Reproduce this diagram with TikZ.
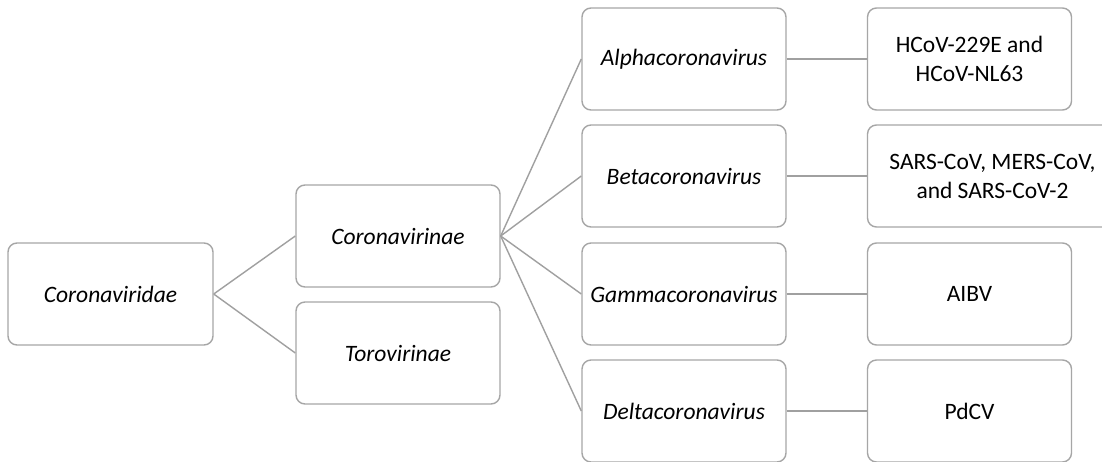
\documentclass[tikz,border=0pt]{standalone}
\usepackage{fontspec}
\setmainfont{Carlito}
\frenchspacing
\begin{document}
\begin{tikzpicture}[x=1pt,y=-1pt,
  box/.style={draw=boxgray, line width=1.4pt, rounded corners=9pt, fill=white, inner sep=0pt, align=center, font=\fontsize{23.5}{29}\selectfont, text=black},
  link/.style={draw=linegray, line width=1.4pt}]
\definecolor{boxgray}{HTML}{A6A6A6}
\definecolor{linegray}{HTML}{A0A0A0}
\useasboundingbox[fill=white] (0,0) rectangle (1102,461);
% column 1
\node[box, minimum width=205pt, minimum height=102pt] (cvd) at (110.5,294) {\itshape Coronaviridae};
% column 2
\node[box, minimum width=204pt, minimum height=102pt] (cvn) at (398,236) {\itshape Coronavirinae};
\node[box, minimum width=204pt, minimum height=102pt] (tvn) at (398,353) {\itshape Torovirinae};
% column 3
\node[box, minimum width=204pt, minimum height=102pt] (alpha) at (684,59) {\itshape Alphacoronavirus};
\node[box, minimum width=204pt, minimum height=102pt] (beta) at (684,176) {\itshape Betacoronavirus};
\node[box, minimum width=204pt, minimum height=102pt] (gamma) at (684,294) {\itshape Gammacoronavirus};
\node[box, minimum width=204pt, minimum height=102pt] (delta) at (684,411) {\itshape Deltacoronavirus};
% column 4
\node[box, minimum width=204pt, minimum height=102pt] (hcov) at (969.5,59) {HCoV-229E and\\HCoV-NL63};
\node[box, minimum width=250pt, minimum height=102pt] (sars) at (992.5,176) {SARS-CoV, MERS-CoV,\\and SARS-CoV-2};
\node[box, minimum width=204pt, minimum height=102pt] (aibv) at (969.5,294) {AIBV};
\node[box, minimum width=204pt, minimum height=102pt] (pdcv) at (969.5,411) {PdCV};
% connectors
\draw[link] (cvd.east) -- (cvn.west);
\draw[link] (cvd.east) -- (tvn.west);
\draw[link] (cvn.east) -- (alpha.west);
\draw[link] (cvn.east) -- (beta.west);
\draw[link] (cvn.east) -- (gamma.west);
\draw[link] (cvn.east) -- (delta.west);
\draw[link] (alpha.east) -- (hcov.west);
\draw[link] (beta.east) -- (sars.west);
\draw[link] (gamma.east) -- (aibv.west);
\draw[link] (delta.east) -- (pdcv.west);
\end{tikzpicture}
\end{document}
